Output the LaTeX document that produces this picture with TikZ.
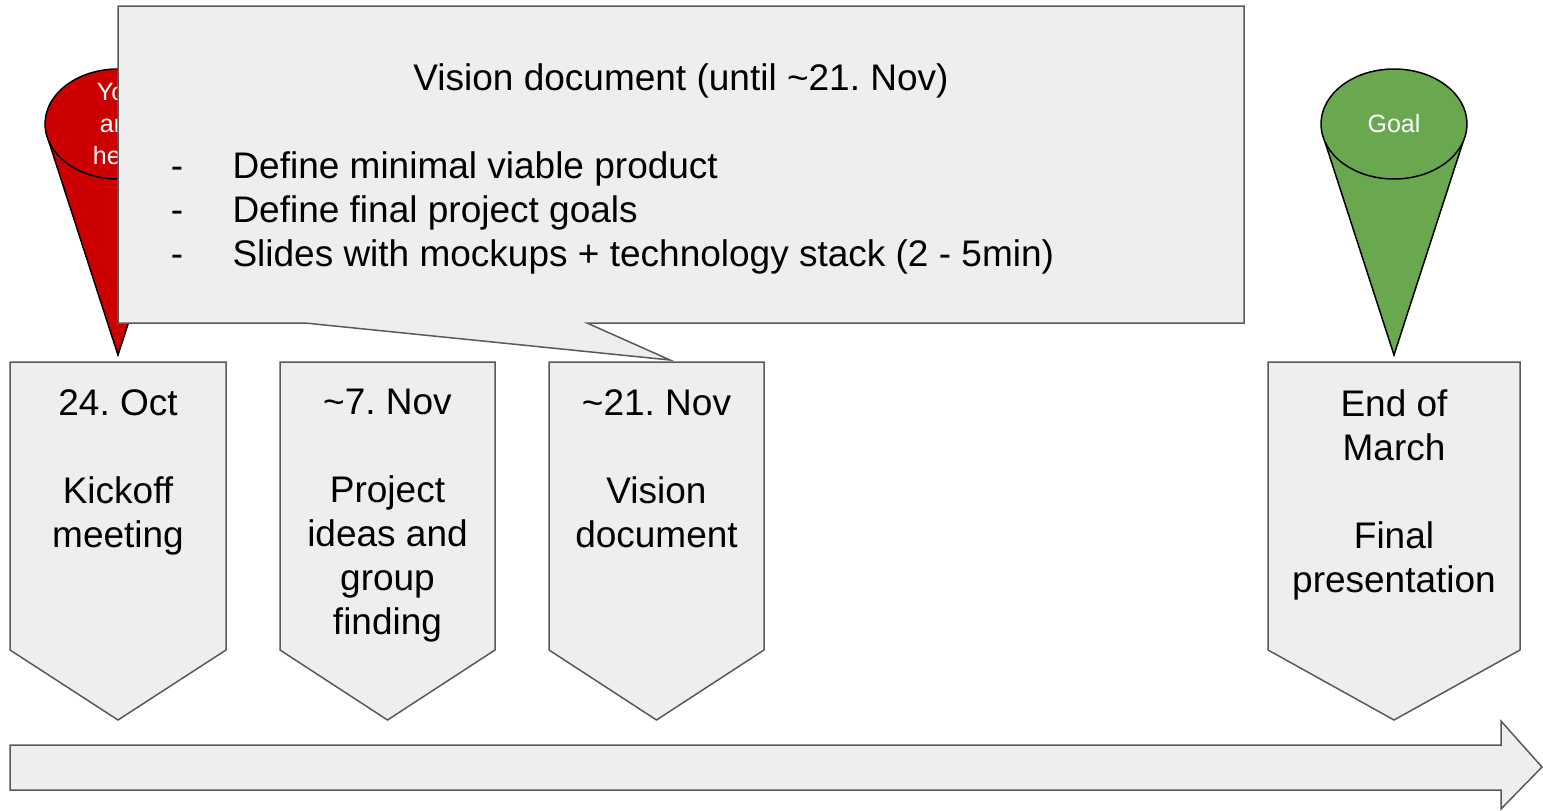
\documentclass[tikz,border=0pt]{standalone}
\usepackage{fontspec}
\setmainfont{Liberation Sans}
\usepackage{xcolor}
\usetikzlibrary{positioning}
\definecolor{boxgray}{HTML}{EEEEEE}
\definecolor{linegray}{HTML}{595959}
\definecolor{conered}{HTML}{CC0000}
\definecolor{conegreen}{HTML}{6AA84F}
\frenchspacing

\begin{document}
\begin{tikzpicture}[x=1pt,y=-1pt,
        every node/.style={font=\fontsize{37}{44}\selectfont},
        chev/.style={fill=boxgray,draw=linegray,line width=1.5pt},
        cone/.style={draw=black,line width=1.5pt},
        milestone/.style={align=center,anchor=north,inner sep=0pt},
        conetext/.style={white,align=center,inner sep=0pt,
            font=\fontsize{25}{32}\selectfont}]
    \useasboundingbox (0,0) rectangle (1543,811);

    % time line
    \draw[chev] (10,745) -- (1501,745) -- (1501,721) -- (1542,767)
        -- (1501,809) -- (1501,790) -- (10,790) -- cycle;

    % milestones
    \foreach \xl/\xr/\nm/\txt in {
            10/226/kickoff/{24. Oct\\[44pt]Kickoff\\meeting},
            280/495/ideas/{\textasciitilde 7. Nov\\[44pt]Project\\ideas and\\group\\finding},
            549/764/vision/{\textasciitilde 21. Nov\\[44pt]Vision\\document},
            1268/1520/final/{End of\\March\\[44pt]Final\\presentation}} {
        \draw[chev] (\xl,362) -- (\xr,362) -- (\xr,650)
            -- ({(\xl+\xr)/2},720) -- (\xl,650) -- cycle;
        \node[milestone] (\nm) at ({(\xl+\xr)/2},389) {\txt};
    }

    % cones
    \coordinate (redtip) at (118,355);
    \fill[conered] (49,142) -- (redtip) -- (187,142) -- cycle;
    \draw[cone] (49,142) -- (redtip) -- (187,142);
    \draw[cone,fill=conered] (118,124) ellipse [x radius=73, y radius=55];
    \node[conetext] (here) at (118,124) {You\\are\\here};

    \coordinate (greentip) at (1394,355);
    \fill[conegreen] (1325,142) -- (greentip) -- (1463,142) -- cycle;
    \draw[cone] (1325,142) -- (greentip) -- (1463,142);
    \draw[cone,fill=conegreen] (1394,124) ellipse [x radius=73, y radius=55];
    \node[conetext] (goal) at (1394,124) {Goal};

    % callout
    \draw[chev] (118,6) -- (1244,6) -- (1244,323) -- (587,323) -- (670,360)
        -- (305,323) -- (118,323) -- cycle;
    \node[anchor=base] (title) at (681,90) {Vision document (until \textasciitilde 21. Nov)};
    \foreach \y/\t [count=\i] in {178/Define minimal viable product,
            222/Define final project goals,
            266/{Slides with mockups + technology stack (2 - 5min)}} {
        \node[anchor=base] (dash\i) at (177,\y) {-};
        \node[anchor=base west] (item\i) at (229,\y) {\t};
    }
\end{tikzpicture}
\end{document}
